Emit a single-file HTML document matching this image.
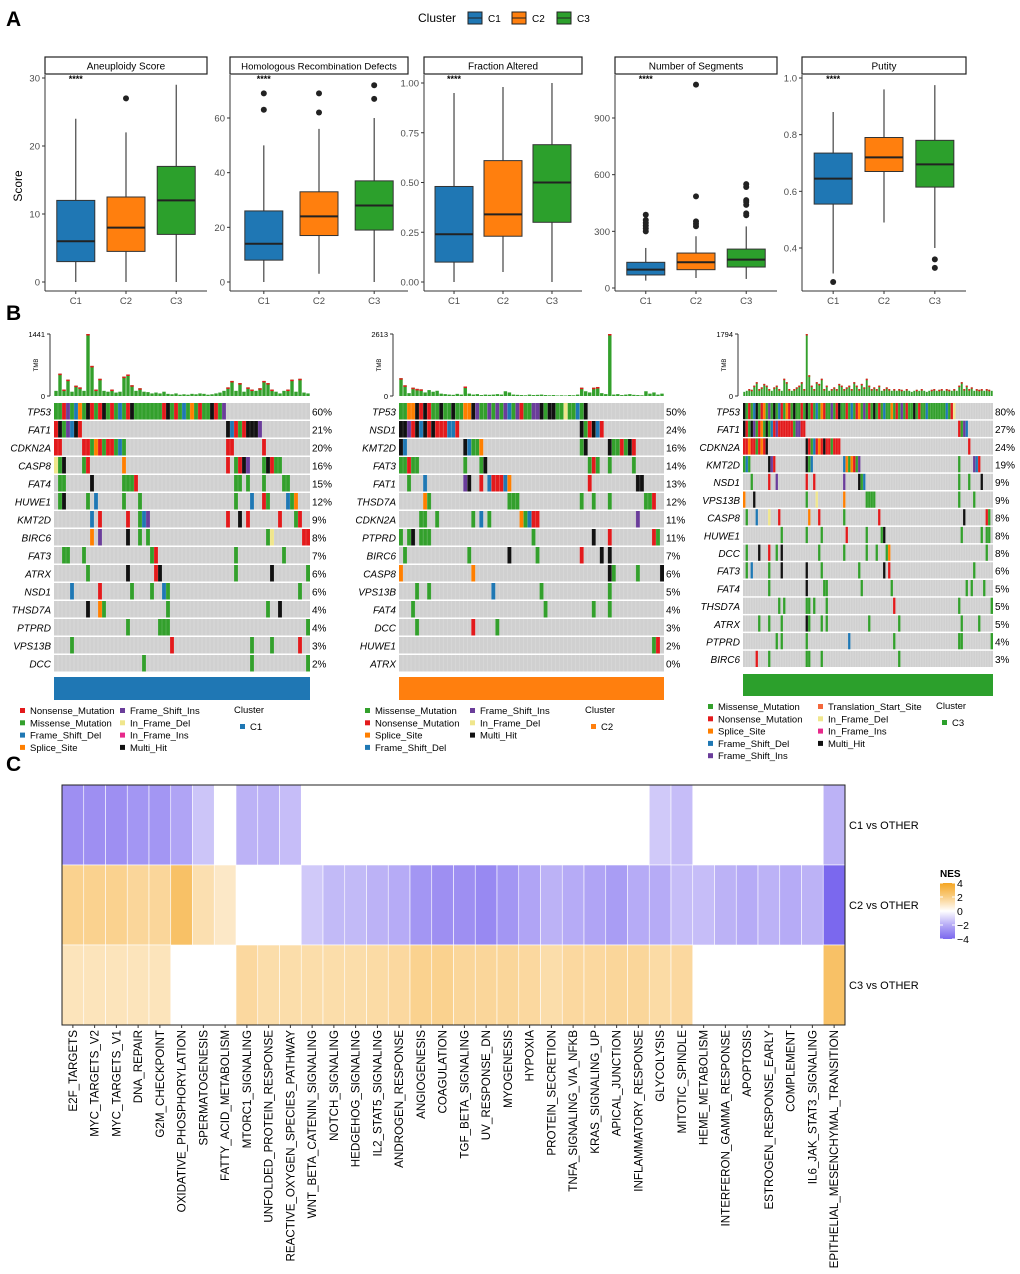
<!DOCTYPE html>
<html><head><meta charset="utf-8"><style>
html,body{margin:0;padding:0;background:#fff;}
svg{display:block;font-family:"Liberation Sans",Arial,sans-serif;}
</style></head><body>
<svg id="fig" width="1020" height="1274" viewBox="0 0 1020 1274" xmlns="http://www.w3.org/2000/svg">
<text x="6" y="26" font-size="21" font-weight="bold">A</text>
<text x="6" y="320" font-size="21" font-weight="bold">B</text>
<text x="6" y="771" font-size="21" font-weight="bold">C</text>
<g>
<text x="418" y="22" font-size="12">Cluster</text>
<rect x="468" y="12" width="14" height="12" fill="#1f77b4" stroke="#222"/><line x1="468" y1="18" x2="482" y2="18" stroke="#222"/>
<text x="488" y="22" font-size="10">C1</text>
<rect x="512" y="12" width="14" height="12" fill="#ff7f0e" stroke="#222"/><line x1="512" y1="18" x2="526" y2="18" stroke="#222"/>
<text x="532" y="22" font-size="10">C2</text>
<rect x="557" y="12" width="14" height="12" fill="#2ca02c" stroke="#222"/><line x1="557" y1="18" x2="571" y2="18" stroke="#222"/>
<text x="577" y="22" font-size="10">C3</text>
</g>
<text transform="translate(22,186) rotate(-90)" font-size="12" text-anchor="middle">Score</text>
</svg>
<script>
// ---------- Panel A data ----------
const groups = ["C1","C2","C3"];
const boxTitles = ["Aneuploidy Score","Homologous Recombination Defects","Fraction Altered","Number of Segments","Putity"];
// [lowerWhisker, q1, median, q3, upperWhisker] per group
const aneuploidyStats = [[0,3,6,12,24],[0,4.5,8,12.5,22],[0,7,12,17,29]];
const aneuploidyOut = [[],[27],[]];
const hrdStats = [[0,8,14,26,50],[3,17,24,33,56],[0,19,28,37,60]];
const hrdOut = [[63,69],[62,69],[67,72]];
const fracStats = [[0,0.1,0.24,0.48,0.95],[0.05,0.23,0.34,0.61,0.98],[0,0.3,0.5,0.69,1.0]];
const fracOut = [[],[],[]];
const segStats = [[39,69,97,136,212],[53,97,136,185,274],[48,111,150,206,326]];
const segOut = [[300,315,330,345,360,388],[327,340,353,485,1077],[385,395,440,455,465,535,550]];
const purityStats = [[0.31,0.555,0.645,0.735,0.88],[0.49,0.67,0.72,0.79,0.96],[0.4,0.615,0.695,0.78,0.975]];
const purityOut = [[0.28],[],[0.36,0.33]];
const aneuploidyTicks = [0,10,20,30];
const hrdTicks = [0,20,40,60];
const fracTicks = [0,0.25,0.5,0.75,1];
const segTicks = [0,300,600,900];
const purityTicks = [0.4,0.6,0.8,1.0];

// ---------- Panel B data ----------
const genes1 = ["TP53","FAT1","CDKN2A","CASP8","FAT4","HUWE1","KMT2D","BIRC6","FAT3","ATRX","NSD1","THSD7A","PTPRD","VPS13B","DCC"];
const pct1 = ["60%","21%","20%","16%","15%","12%","9%","8%","7%","6%","6%","4%","4%","3%","2%"];
const muts1 = [
 [[0,"mmnimfsmhnmnhmnmfmnhmmmmmmmnhmnmfmsmnmmhnmi"]],
 [[0,"nhmifhn"],[43,"hfnmnhhhi"]],
 [[0,"nn"],[7,"nnmsnmnnmfm"],[43,"nn"],[52,"n"]],
 [[0,"dmh"],[7,"mn"],[17,"s"],[43,"n"],[45,"mnhi"],[52,"mhnmm"]],
 [[1,"mm"],[9,"h"],[17,"mmmn"],[45,"mm"],[48,"m"],[52,"m"],[57,"mm"]],
 [[1,"m"],[2,"h"],[8,"m"],[10,"f"],[17,"m"],[21,"m"],[45,"m"],[49,"f"],[52,"nm"],[58,"fms"]],
 [[9,"f"],[11,"n"],[18,"n"],[21,"m"],[22,"fi"],[43,"n"],[46,"h"],[48,"n"],[56,"n"],[60,"mn"]],
 [[9,"s"],[11,"i"],[18,"h"],[21,"m"],[23,"m"],[53,"md"],[62,"nn"]],
 [[2,"m"],[3,"m"],[7,"m"],[24,"mn"],[45,"m"],[57,"m"]],
 [[8,"m"],[18,"h"],[25,"n"],[26,"h"],[45,"m"],[54,"h"],[63,"m"]],
 [[4,"f"],[11,"n"],[19,"m"],[24,"m"],[27,"fm"],[61,"m"]],
 [[8,"h"],[11,"sm"],[28,"m"],[53,"m"],[56,"h"]],
 [[18,"m"],[26,"m"],[27,"m"],[28,"m"],[63,"m"]],
 [[4,"m"],[29,"n"],[49,"m"],[54,"m"],[61,"n"]],
 [[22,"m"],[49,"m"],[63,"m"]]];
const tmb1 = [120,520,150,380,100,240,200,120,1441,700,150,400,120,100,150,80,100,450,500,250,120,180,100,90,60,80,60,100,50,40,60,30,40,30,50,40,60,50,30,40,60,80,120,200,350,120,300,100,200,150,120,180,350,300,150,100,60,120,150,380,100,400,80,60];

const genes2 = ["TP53","NSD1","KMT2D","FAT3","FAT1","THSD7A","CDKN2A","PTPRD","BIRC6","CASP8","VPS13B","FAT4","DCC","HUWE1","ATRX"];
const pct2 = ["50%","24%","16%","14%","13%","12%","11%","11%","7%","6%","5%","4%","3%","2%","0%"];
const muts2 = [
 [[0,"mmsshnhnmmhmmhmmsshimmimimifminmmiihmhhmmdmmfmh"]],
 [[0,"hhinhfhnhnnnffn"],[45,"hmnhfn"]],
 [[0,"hf"],[16,"hfmms"],[45,"mh"],[52,"hmmnmhn"]],
 [[0,"mmnmm"],[16,"m"],[20,"mh"],[47,"mnm"],[52,"m"],[58,"m"]],
 [[2,"m"],[6,"f"],[16,"ih"],[20,"n"],[22,"fnnnfs"],[47,"n"],[59,"hh"]],
 [[6,"sm"],[27,"mmm"],[45,"m"],[48,"m"],[52,"m"],[61,"mmn"]],
 [[5,"mm"],[9,"m"],[18,"m"],[20,"f"],[22,"m"],[30,"smfnn"],[59,"i"]],
 [[0,"m"],[2,"mh"],[5,"mmm"],[33,"m"],[48,"h"],[52,"n"],[63,"nm"]],
 [[1,"m"],[17,"m"],[27,"h"],[34,"m"],[45,"n"],[50,"h"],[52,"h"]],
 [[0,"s"],[18,"s"],[52,"hm"],[59,"m"],[65,"h"]],
 [[4,"m"],[7,"m"],[23,"f"],[35,"m"],[52,"m"]],
 [[3,"m"],[36,"m"],[48,"m"],[52,"m"]],
 [[4,"m"],[18,"n"],[24,"m"]],
 [[63,"mn"]],
 []];
const tmb2 = [750,450,120,350,300,280,150,250,180,220,100,80,60,50,90,60,400,100,60,80,40,60,50,60,80,60,200,150,60,50,40,30,60,40,50,60,40,30,40,20,30,20,40,30,60,350,200,150,350,380,120,80,2613,60,80,40,60,80,50,40,30,200,100,150,60,100];

const genes3 = ["TP53","FAT1","CDKN2A","KMT2D","NSD1","VPS13B","CASP8","HUWE1","DCC","FAT3","FAT4","THSD7A","ATRX","PTPRD","BIRC6"];
const pct3 = ["80%","27%","24%","19%","9%","9%","8%","8%","8%","6%","5%","5%","5%","4%","3%"];
const muts3 = [
 [[0,"hmnmfhmnsmimhmfnmsnmhmmnmhmnmfmsnmmimnhmmnmfmnsmimnmhmnmfmmsmnmimnmmhmnmmfmmmmmmmfmnd"]],
 [[0,"hnmhimnsmhmfninnnnnnmiinn"],[86,"nmif"]],
 [[0,"nnsnnmnsnh"],[25,"hnmfnsnhnnmnnn"],[90,"n"]],
 [[0,"mfm"],[10,"hin"],[25,"hmf"],[40,"fsmsnmi"],[86,"m"],[92,"ifn"]],
 [[3,"m"],[10,"n"],[13,"i"],[25,"n"],[28,"n"],[40,"i"],[46,"hmf"],[86,"m"],[90,"m"],[95,"h"]],
 [[0,"s"],[4,"h"],[25,"m"],[29,"d"],[40,"s"],[49,"mmmm"],[86,"m"],[92,"m"]],
 [[1,"m"],[5,"f"],[10,"d"],[14,"n"],[26,"s"],[30,"n"],[40,"m"],[54,"n"],[88,"h"],[97,"nm"]],
 [[15,"m"],[25,"m"],[31,"m"],[41,"n"],[49,"m"],[55,"mh"],[87,"m"],[95,"m"],[97,"mm"]],
 [[1,"m"],[6,"h"],[10,"n"],[13,"m"],[15,"h"],[30,"m"],[40,"m"],[49,"m"],[53,"m"],[57,"ms"],[97,"m"]],
 [[1,"m"],[3,"f"],[10,"m"],[15,"h"],[25,"h"],[31,"m"],[46,"m"],[56,"h"],[58,"n"],[92,"m"]],
 [[10,"m"],[25,"h"],[32,"mm"],[47,"m"],[59,"m"],[89,"m"],[91,"m"],[96,"m"]],
 [[14,"m"],[16,"m"],[25,"mm"],[28,"m"],[33,"m"],[60,"n"],[86,"m"],[99,"m"]],
 [[6,"m"],[10,"m"],[15,"m"],[25,"h"],[26,"m"],[31,"m"],[33,"m"],[50,"m"],[62,"m"],[87,"m"],[94,"m"]],
 [[13,"m"],[15,"m"],[25,"m"],[42,"f"],[60,"m"],[86,"mm"],[99,"m"]],
 [[5,"n"],[10,"m"],[25,"mm"],[31,"m"],[62,"m"]]];
const tmb3 = [120,150,200,180,300,400,200,250,350,300,200,150,250,300,200,150,500,400,200,150,200,250,300,400,200,1794,600,300,200,400,350,500,200,300,150,200,250,200,350,300,200,250,300,200,400,300,200,350,250,500,300,200,250,200,300,150,200,250,200,150,200,150,200,180,150,200,150,120,150,180,150,200,150,120,150,180,200,150,180,200,150,200,180,150,200,150,300,400,200,300,200,250,150,200,180,200,150,200,180,150];

// ---------- Panel C data ----------
const pathways = ["E2F_TARGETS","MYC_TARGETS_V2","MYC_TARGETS_V1","DNA_REPAIR","G2M_CHECKPOINT","OXIDATIVE_PHOSPHORYLATION","SPERMATOGENESIS","FATTY_ACID_METABOLISM","MTORC1_SIGNALING","UNFOLDED_PROTEIN_RESPONSE","REACTIVE_OXYGEN_SPECIES_PATHWAY","WNT_BETA_CATENIN_SIGNALING","NOTCH_SIGNALING","HEDGEHOG_SIGNALING","IL2_STAT5_SIGNALING","ANDROGEN_RESPONSE","ANGIOGENESIS","COAGULATION","TGF_BETA_SIGNALING","UV_RESPONSE_DN","MYOGENESIS","HYPOXIA","PROTEIN_SECRETION","TNFA_SIGNALING_VIA_NFKB","KRAS_SIGNALING_UP","APICAL_JUNCTION","INFLAMMATORY_RESPONSE","GLYCOLYSIS","MITOTIC_SPINDLE","HEME_METABOLISM","INTERFERON_GAMMA_RESPONSE","APOPTOSIS","ESTROGEN_RESPONSE_EARLY","COMPLEMENT","IL6_JAK_STAT3_SIGNALING","EPITHELIAL_MESENCHYMAL_TRANSITION"];
const comparisons = ["C1 vs OTHER","C2 vs OTHER","C3 vs OTHER"];
const nesC1 = [-2.8,-2.8,-2.8,-2.6,-2.6,-2.2,-1.3,null,-1.8,-1.8,-1.5,null,null,null,null,null,null,null,null,null,null,null,null,null,null,null,null,-1.2,-1.5,null,null,null,null,null,null,-1.8];
const nesC2 = [1.8,1.8,1.8,1.6,1.6,2.6,1.2,0.8,null,null,null,-1.2,-1.6,-1.6,-1.8,-2.0,-2.6,-2.8,-2.8,-3.0,-2.6,-2.2,-1.8,-2.0,-2.2,-2.4,-2.0,-2.0,-1.5,-1.5,-1.8,-2.0,-1.8,-2.0,-1.8,-4.0];
const nesC3 = [1.0,1.0,1.0,1.0,1.0,null,null,null,1.5,1.3,1.3,1.3,1.3,1.3,1.4,1.5,1.8,1.8,1.6,1.6,1.6,1.5,1.3,1.5,1.5,1.6,1.6,1.4,1.5,null,null,null,null,null,null,2.6];
const nesTicks = [4,2,0,-2,-4];

// ---------- helpers ----------
const svg = document.getElementById('fig');
const NS = "http://www.w3.org/2000/svg";
function mk(tag, attrs, parent){ const e=document.createElementNS(NS,tag); for(const k in attrs) e.setAttribute(k,attrs[k]); (parent||svg).appendChild(e); return e; }
function txt(x,y,s,size,parent,extra){ const t=mk('text',Object.assign({x:x,y:y,'font-size':size},extra||{}),parent); t.textContent=s; return t; }
const gColors = ["#1f77b4","#ff7f0e","#2ca02c"];

// ---------- Panel A ----------
const boxPanels = [
 {stats:aneuploidyStats,out:aneuploidyOut,ticks:aneuploidyTicks,fmt:v=>String(v),L:45,R:207,v0:0,p0:282,v1:30,p1:78},
 {stats:hrdStats,out:hrdOut,ticks:hrdTicks,fmt:v=>String(v),L:230,R:408,v0:0,p0:282,v1:60,p1:118},
 {stats:fracStats,out:fracOut,ticks:fracTicks,fmt:v=>v.toFixed(2),L:424,R:582,v0:0,p0:282,v1:1,p1:83},
 {stats:segStats,out:segOut,ticks:segTicks,fmt:v=>String(v),L:615,R:777,v0:0,p0:288,v1:900,p1:118},
 {stats:purityStats,out:purityOut,ticks:purityTicks,fmt:v=>v.toFixed(1),L:802,R:966,v0:0.4,p0:248,v1:1,p1:78}];
boxPanels.forEach((P,pi)=>{
  const g=mk('g',{});
  
  
  const y=v=>P.p0+(v-P.v0)*(P.p1-P.p0)/(P.v1-P.v0);
  const x=i=>P.L+(P.R-P.L)*[0.19,0.5,0.81][i];
  const strip=mk('rect',{x:P.L,y:57,width:P.R-P.L,height:17,fill:'#fff',stroke:'#222','stroke-width':1.2},g);
  
  
  const st=txt((P.L+P.R)/2,69.5,boxTitles[pi],pi==1?9.6:10,g,{'text-anchor':'middle'});
  
  
  mk('line',{x1:P.L,y1:75,x2:P.L,y2:291,stroke:'#333','stroke-width':1},g);
  mk('line',{x1:P.L,y1:291,x2:P.R,y2:291,stroke:'#333','stroke-width':1},g);
  P.ticks.forEach(t=>{
    mk('line',{x1:P.L-3,y1:y(t),x2:P.L,y2:y(t),stroke:'#333'},g);
    const tl=txt(P.L-5,y(t)+3.5,P.fmt(t),9.5,g,{'text-anchor':'end',fill:'#4d4d4d'});
    
    
  });
  groups.forEach((gr,i)=>{
    const s=P.stats[i], cx=x(i), w=38;
    mk('line',{x1:cx,y1:y(s[0]),x2:cx,y2:y(s[4]),stroke:'#333','stroke-width':1.1},g);
    const b=mk('rect',{x:cx-w/2,y:y(s[3]),width:w,height:y(s[1])-y(s[3]),fill:gColors[i],stroke:'#333','stroke-width':1},g);
    
    
    mk('line',{x1:cx-w/2,y1:y(s[2]),x2:cx+w/2,y2:y(s[2]),stroke:'#222','stroke-width':2},g);
    P.out[i].forEach(o=>{
      const c=mk('circle',{cx:cx,cy:y(o),r:3,fill:'#222'},g);
      
      
    });
    mk('line',{x1:cx,y1:291,x2:cx,y2:294,stroke:'#333'},g);
    const xl=txt(cx,304,gr,9.5,g,{'text-anchor':'middle',fill:'#4d4d4d'});
    
    
  });
  const sig=txt(x(0),82,'****',9,g,{'text-anchor':'middle','font-weight':'bold'});
  
  
});

// ---------- Panel B ----------
const mutColors = {m:'#33a02c',n:'#e31a1c',f:'#1f78b4',i:'#6a3d9a',s:'#ff7f00',d:'#f0e68c',I:'#e7298a',h:'#111',t:'#f4673b'};
const onco = [
 {genes:genes1,pct:pct1,muts:muts1,tmb:tmb1,N:64,ax:50,x0:54,x1:310,rowH:18,barY:677,barH:23,col:'#1f77b4',max:'1441',cl:'C1',
  leg:[['n','Nonsense_Mutation'],['m','Missense_Mutation'],['f','Frame_Shift_Del'],['s','Splice_Site'],['i','Frame_Shift_Ins'],['d','In_Frame_Del'],['I','In_Frame_Ins'],['h','Multi_Hit']],lx:[20,120],lc:234,ly:714,perCol:4},
 {genes:genes2,pct:pct2,muts:muts2,tmb:tmb2,N:66,ax:393,x0:399,x1:664,rowH:18,barY:677,barH:23,col:'#ff7f0e',max:'2613',cl:'C2',
  leg:[['m','Missense_Mutation'],['n','Nonsense_Mutation'],['s','Splice_Site'],['f','Frame_Shift_Del'],['i','Frame_Shift_Ins'],['d','In_Frame_Del'],['h','Multi_Hit']],lx:[365,470],lc:585,ly:714,perCol:4},
 {genes:genes3,pct:pct3,muts:muts3,tmb:tmb3,N:100,ax:738,x0:743,x1:993,rowH:17.7,barY:674,barH:22,col:'#2ca02c',max:'1794',cl:'C3',
  leg:[['m','Missense_Mutation'],['n','Nonsense_Mutation'],['s','Splice_Site'],['f','Frame_Shift_Del'],['i','Frame_Shift_Ins'],['t','Translation_Start_Site'],['d','In_Frame_Del'],['I','In_Frame_Ins'],['h','Multi_Hit']],lx:[708,818],lc:936,ly:710,perCol:5}];
onco.forEach((O,oi)=>{
  const g=mk('g',{});
  
  
  const cw=(O.x1-O.x0)/O.N, top=403;
  const maxV=Math.max(...O.tmb);
  const ty=v=>396-(v/maxV)*62;
  mk('line',{x1:O.ax,y1:334,x2:O.ax,y2:396,stroke:'#333'},g);
  mk('line',{x1:O.ax-3,y1:334,x2:O.ax,y2:334,stroke:'#333'},g);
  mk('line',{x1:O.ax-3,y1:396,x2:O.ax,y2:396,stroke:'#333'},g);
  txt(O.ax-5,337,O.max,7.5,g,{'text-anchor':'end'});
  txt(O.ax-5,399,'0',7.5,g,{'text-anchor':'end'});
  txt(0,0,'TMB',6,g,{transform:`translate(${O.ax-12},365) rotate(-90)`,'text-anchor':'middle'});
  O.tmb.forEach((v,i)=>{
    const b=mk('rect',{x:O.x0+i*cw+0.3,y:ty(v),width:Math.max(cw-0.6,1),height:396-ty(v),fill:'#33a02c'},g);
    
    
    if(v>maxV*0.1) mk('rect',{x:O.x0+i*cw+0.3,y:ty(v),width:Math.max(cw-0.6,1),height:1.5,fill:'#e31a1c'},g);
  });
  O.genes.forEach((gn,r)=>{
    const ry=top+r*O.rowH;
    const row=mk('rect',{x:O.x0,y:ry,width:O.x1-O.x0,height:O.rowH-1.5,fill:'#d0d0d0'},g);
    
    
    O.muts[r].forEach(seg=>{
      for(let k=0;k<seg[1].length;k++){
        const c=seg[0]+k; if(c>=O.N) break;
        const ch=seg[1][k]; if(ch==='.') continue;
        const m=mk('rect',{x:O.x0+c*cw,y:ry,width:cw,height:O.rowH-1.5,fill:mutColors[ch]},g);
        
        
      }
    });
    const gl=txt(O.x0-3,ry+O.rowH/2+3.5,gn,10,g,{'text-anchor':'end','font-style':'italic'});
    
    
    const pl=txt(O.x1+2,ry+O.rowH/2+3.5,O.pct[r],10,g,{});
    
    
  });
  for(let c=1;c<O.N;c++) mk('line',{x1:O.x0+c*cw,y1:top,x2:O.x0+c*cw,y2:top+O.genes.length*O.rowH,stroke:'#fff','stroke-width':0.25,'stroke-opacity':0.6},g);
  const cb=mk('rect',{x:O.x0,y:O.barY,width:O.x1-O.x0,height:O.barH,fill:O.col},g);
  
  
  const perCol=O.perCol;
  O.leg.forEach((it,k)=>{
    const colI=k<perCol?0:1, rI=k<perCol?k:k-perCol;
    const lx=O.lx[colI], ly=O.ly+rI*12.3;
    mk('rect',{x:lx,y:ly-6,width:5,height:5,fill:mutColors[it[0]]},g);
    const lt=txt(lx+10,ly,it[1],9.5,g,{});
    
    
  });
  txt(O.lc,O.ly-1,'Cluster',9.5,g,{});
  mk('rect',{x:O.lc+6,y:O.ly+10,width:5,height:5,fill:O.col},g);
  const cl=txt(O.lc+16,O.ly+16,O.cl,9.5,g,{});
  
  
});

// ---------- Panel C ----------
const hx0=62, hx1=845, hy0=785, rh=80;
const hcw=(hx1-hx0)/pathways.length;
const purple=[123,104,238], orange=[245,166,35];
function nesColor(v){
  const t=Math.pow(Math.min(Math.abs(v)/4,1),0.85), c=v<0?purple:orange;
  const mix=c.map(ch=>Math.round(255+(ch-255)*t));
  return `rgb(${mix[0]},${mix[1]},${mix[2]})`;
}
const hg=mk('g',{});


[nesC1,nesC2,nesC3].forEach((row,r)=>{
  row.forEach((v,c)=>{
    if(v===null) return;
    const cell=mk('rect',{x:hx0+c*hcw,y:hy0+r*rh,width:hcw,height:rh,fill:nesColor(v),stroke:'#fff','stroke-width':0.6},hg);
    
    
  });
  const rl=txt(849,hy0+r*rh+rh/2+4,comparisons[r],11,hg,{});
  
  
});
mk('rect',{x:hx0,y:hy0,width:hx1-hx0,height:3*rh,fill:'none',stroke:'#222','stroke-width':1},hg);
pathways.forEach((p,c)=>{
  const cx=hx0+(c+0.5)*hcw;
  mk('line',{x1:cx,y1:hy0+3*rh,x2:cx,y2:hy0+3*rh+3,stroke:'#333'},hg);
  const pl=txt(0,0,p,11.6,hg,{transform:`translate(${cx+4},1030) rotate(-90)`,'text-anchor':'end'});
  
  
});
const defs=mk('defs',{});
const lg=mk('linearGradient',{id:'nesg',x1:0,y1:0,x2:0,y2:1},defs);
[4,2,0,-2,-4].forEach((v,i)=>mk('stop',{offset:(i/4),'stop-color':nesColor(v)},lg));
const cbar=mk('rect',{x:940,y:883,width:15,height:56,fill:'url(#nesg)'});


const nt=txt(940,877,'NES',10,svg,{'font-weight':'bold'});


nesTicks.forEach(v=>{
  const yy=883+(4-v)/8*56;
  mk('line',{x1:940,y1:yy,x2:943,y2:yy,stroke:'#fff'});
  mk('line',{x1:952,y1:yy,x2:955,y2:yy,stroke:'#fff'});
  const tl=txt(957,yy+4,v<0?'\u2212'+Math.abs(v):String(v),10.5,svg,{});
  
  
});
</script>
</body></html>
